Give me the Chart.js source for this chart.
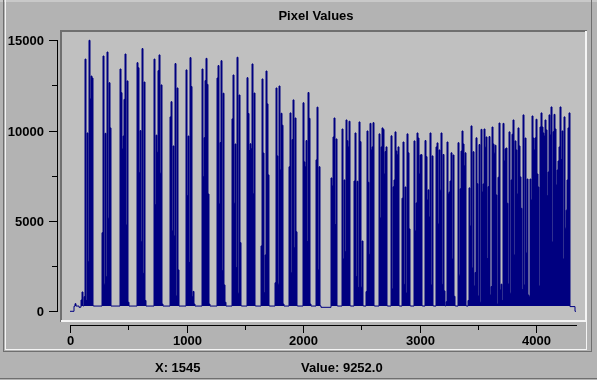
<!DOCTYPE html>
<html>
<head>
<meta charset="utf-8">
<script src="https://cdn.jsdelivr.net/npm/chart.js@4/dist/chart.umd.min.js"></script>
<style>
html,body{margin:0;padding:0;background:#b3b3b3;}
canvas{display:block;}
</style>
</head>
<body>
<canvas id="c" width="597" height="380"></canvas>
<script>
// ---- text ----
const TITLE = 'Pixel Values';
const STATUS_X = 'X: 1545';
const STATUS_VALUE = 'Value: 9252.0';

// ---- data: pixel values sampled along the profile, one sample every SAMPLE_STEP units ----
const SAMPLE_STEP = 8.5837;
const pixelValues = [
  0,0,0,0,280,420,290,290,290,220,230,
  625,1070,300,810,13960,600,9870,2745,15000,11750,13020,12910,300,
  290,290,290,290,290,290,290,290,
  4350,14130,1500,9850,1915,14350,5150,12650,10150,
  290,290,290,290,290,290,290,290,290,
  13410,12100,8980,9700,11730,14240,4780,12750,500,
  290,290,290,290,290,290,290,290,
  13760,13480,7670,10000,3850,14540,2100,12690,600,
  290,290,290,290,290,290,290,290,
  13960,5900,9750,8800,13320,14190,7640,12530,400,
  290,290,290,290,290,290,290,
  10760,11600,4450,9150,4170,13710,850,12360,2290,
  290,290,290,290,290,290,290,
  13360,6400,9700,2700,14040,12440,810,1100,400,
  290,290,290,290,290,290,290,
  13410,7450,9610,12770,14000,12560,6490,400,
  290,290,290,290,290,290,290,
  12910,13600,5940,9340,13870,2250,12070,1460,500,
  290,290,290,290,290,290,
  10650,13080,5980,9260,2420,14060,1000,11970,3800,300,
  290,290,290,290,290,
  12930,10950,8900,9270,9000,13690,6500,12080,300,
  290,290,290,290,290,
  3620,12860,8760,1030,3120,13300,11480,7550,300,
  290,290,290,290,290,
  1580,12360,8600,1500,12470,7820,10960,10300,400,
  290,290,290,290,290,
  8000,10980,2130,9500,11700,3520,10700,4400,300,
  290,290,290,290,290,
  11540,8270,8000,9450,3860,12110,10680,400,
  290,290,290,290,290,
  8380,11300,2290,8000,300,
  220,220,220,220,220,220,220,220,220,220,
  7380,6940,9650,10700,4800,9540,300,
  290,290,290,290,
  10090,2900,7270,3300,10590,9440,9100,10520,300,
  290,290,290,
  7210,9870,1920,7200,1320,10480,9390,1330,3890,300,
  290,290,
  1090,9980,7140,3150,10400,8930,9100,10440,300,
  290,290,290,290,
  9820,5170,9100,10150,10070,7600,8840,9100,300,
  290,290,290,
  9710,1240,6890,7270,9930,8870,8660,9100,300,
  290,290,
  6260,9370,1490,6880,1010,9820,8770,4560,300,
  290,290,290,
  9430,4450,6000,9870,9590,7600,8650,8670,300,
  290,290,
  9450,8560,6160,6720,5220,9870,1460,8600,300,
  290,290,
  9100,9320,4830,8930,6700,9870,1490,8680,1130,300,
  530,9370,6490,6600,7210,8770,2890,8650,830,300,
  290,290,
  9330,2000,6780,8870,9980,9260,8050,8770,300,
  290,600,
  6830,4720,10260,2400,8830,1400,2150,9600,7060,850,9230,500,
  10070,6600,7050,10090,9080,9650,2920,6900,9670,900,1370,10200,9260,8750,9190,6440,400,7420,10420,1180,
  1500,600,
  10400,8320,8990,9040,5980,1510,9930,1000,7270,9800,10590,3120,9430,8930,6490,10150,9150,7440,5700,1200,
  10870,1460,9590,3230,7320,900,800,7320,6160,10810,9590,8930,9600,10630,7600,6880,1400,10200,10980,10200,
  9870,9700,10590,10040,6400,7710,10870,9760,11310,3840,9940,10900,10090,6990,7820,8320,9100,11310,8400,9980,
  2900,10760,4600,5600,7270,10150,10980,
  260,260,260,260,260,0,0
];

// ---- axis ticks ----
const xMajorTicks = [0, 1000, 2000, 3000, 4000];
const xMinorTicks = [500, 1500, 2500, 3500];
const yMajorTicks = [0, 5000, 10000, 15000];
const yMinorTicks = [2500, 7500, 12500];

const points = pixelValues.map((v, i) => ({ x: i * SAMPLE_STEP, y: v }));
const X_END = (pixelValues.length - 1) * SAMPLE_STEP;

const FONT = 'bold 13px "Liberation Sans", Arial, Helvetica, sans-serif';
const OUTER_BG = '#b3b3b3';
const PLOT_BG = '#c0c0c0';
const DARK = '#6f6f6f';
const LIGHT = '#f4f4f4';

const chromePlugin = {
  id: 'chrome',
  beforeDraw(chart) {
    const ctx = chart.ctx, a = chart.chartArea;
    ctx.save();
    ctx.fillStyle = OUTER_BG;
    ctx.fillRect(0, 0, chart.width, chart.height);
    // outer panel frame
    ctx.fillStyle = '#c9c9c9';
    ctx.fillRect(0, 0, chart.width, 2);
    ctx.fillStyle = DARK;
    ctx.fillRect(3, 0, 1, 352);
    ctx.fillRect(591, 0, 1, 352);
    ctx.fillRect(3, 351, 589, 1);
    ctx.fillRect(0, 378, chart.width, 1);
    ctx.fillStyle = LIGHT;
    ctx.fillRect(5, 0, 1, 350);
    ctx.fillRect(5, 349, 582, 1);
    ctx.fillRect(586, 320, 1, 30);
    // plot background
    ctx.fillStyle = PLOT_BG;
    ctx.fillRect(a.left, a.top, a.right - a.left, a.bottom - a.top);
    ctx.restore();
  },
  afterDraw(chart) {
    const ctx = chart.ctx, a = chart.chartArea;
    const xs = chart.scales.x, ys = chart.scales.y;
    ctx.save();
    // sunken plot border
    ctx.fillStyle = DARK;
    ctx.fillRect(a.left - 2, a.top - 2, a.right - a.left + 4, 2);
    ctx.fillRect(a.left - 2, a.top - 2, 2, a.bottom - a.top + 4);
    ctx.fillStyle = LIGHT;
    ctx.fillRect(a.left - 1, a.bottom, a.right - a.left + 3, 2);
    ctx.fillRect(a.right, a.top - 1, 2, a.bottom - a.top + 3);

    ctx.fillStyle = '#000';
    ctx.font = FONT;
    // y axis
    const yTop = Math.round(ys.getPixelForValue(15000));
    const yBot = Math.round(ys.getPixelForValue(0));
    ctx.fillRect(57, yTop, 1, yBot - yTop + 1);
    ctx.textAlign = 'right';
    ctx.textBaseline = 'alphabetic';
    yMajorTicks.forEach(v => {
      const y = Math.round(ys.getPixelForValue(v));
      ctx.fillRect(49, y, 8, 1);
      ctx.fillText(String(v), 44, y + 5);
    });
    yMinorTicks.forEach(v => {
      const y = Math.round(ys.getPixelForValue(v));
      ctx.fillRect(52, y, 5, 1);
    });
    // x axis
    const axY = 325;
    const xL = Math.round(xs.getPixelForValue(0));
    const xR = Math.round(xs.getPixelForValue(X_END));
    ctx.fillRect(xL, axY, xR - xL + 1, 1);
    ctx.textAlign = 'center';
    xMajorTicks.forEach(v => {
      const x = Math.round(xs.getPixelForValue(v));
      ctx.fillRect(x, axY, 1, 8);
      ctx.fillText(String(v), x + 0.5, 345);
    });
    xMinorTicks.forEach(v => {
      const x = Math.round(xs.getPixelForValue(v));
      ctx.fillRect(x, axY, 1, 5);
    });
    // title
    ctx.textAlign = 'center';
    ctx.fillText(TITLE, 316, 20);
    // status line
    ctx.textAlign = 'left';
    ctx.fillText(STATUS_X, 155, 372);
    ctx.fillText(STATUS_VALUE, 301, 372);
    ctx.restore();
  }
};

new Chart(document.getElementById('c'), {
  type: 'line',
  data: {
    datasets: [{
      data: points,
      borderColor: '#000080',
      borderWidth: 1,
      pointRadius: 0,
      pointHoverRadius: 0,
      stepped: true,
      tension: 0,
      fill: { target: { value: 300 }, above: '#000080', below: 'rgba(0,0,0,0)' }
    }]
  },
  options: {
    responsive: false,
    animation: false,
    devicePixelRatio: 1,
    events: [],
    layout: { padding: { left: 62, top: 32, right: 12, bottom: 60 } },
    plugins: { legend: { display: false }, tooltip: { enabled: false }, title: { display: false } },
    scales: {
      x: { type: 'linear', min: -68.67, max: 4420.6, display: false },
      y: { type: 'linear', min: -481.5, max: 15459.3, display: false }
    }
  },
  plugins: [chromePlugin]
});
</script>
</body>
</html>
